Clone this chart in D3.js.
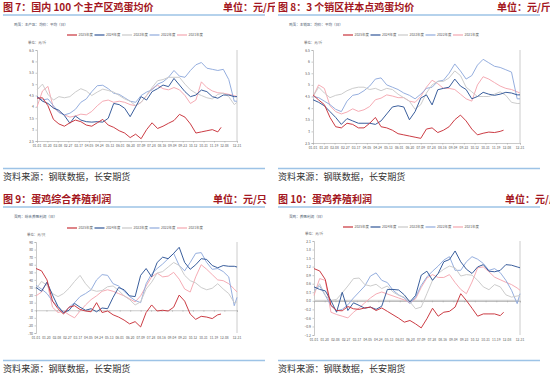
<!DOCTYPE html>
<html>
<head>
<meta charset="utf-8">
<script src="https://cdn.jsdelivr.net/npm/d3@7"></script>
<style>
body { margin: 0; background: #fff; }
svg { display: block; }
</style>
</head>
<body>
<div id="chart"></div>
<script>
// series order: 2025, 2024, 2023, 2022, 2021
var seriesNames = ["2025年度", "2024年度", "2023年度", "2022年度", "2021年度"];
var seriesColors = ["#c8323a", "#2f5597", "#c9c9c9", "#8faadc", "#f4a7b0"];

var tickDays = [0, 19, 38, 57, 76, 95, 114, 133, 152, 171, 190, 209, 228, 247, 266, 285, 304, 323, 342, 365];
var tickLabels = ["01-01", "01-20", "02-08", "02-27", "03-17", "04-05", "04-24", "05-13", "06-01", "06-20",
                  "07-09", "07-28", "08-16", "09-04", "09-23", "10-12", "10-31", "11-19", "12-08", "12-31"];

// sampled every 10 days, last point = 12-31 (or 12-02 for the current year)
var fullDays = d3.range(0, 361, 10).concat([365]);
var partDays = d3.range(0, 331, 10).concat([336]);

// 图7 主产区鸡蛋均价
var p7_2025 = [4.38,4.40,4.05,3.45,3.25,3.15,3.30,3.42,3.35,3.20,3.15,3.30,3.45,3.20,3.10,2.95,2.85,2.65,2.80,2.60,3.00,3.30,3.05,3.15,3.28,3.40,3.67,3.55,3.25,2.85,2.90,2.95,3.00,2.90,3.10];
var p7_2024 = [4.45,4.25,4.15,3.95,3.85,3.62,3.28,3.60,3.42,3.35,3.33,3.35,3.33,3.50,4.15,4.10,3.94,3.57,4.00,4.45,4.30,4.67,4.80,4.96,4.89,5.25,4.96,4.67,4.45,4.52,4.74,4.67,4.45,4.38,4.52,4.52,4.45,4.45];
var p7_2023 = [4.75,5.00,4.55,4.30,4.45,4.40,4.45,4.65,4.80,4.70,4.50,4.65,4.78,4.72,4.65,4.50,4.35,4.25,4.05,4.20,4.50,4.85,5.15,5.20,5.30,5.30,5.30,5.00,4.75,4.60,4.50,4.40,4.35,4.55,4.60,4.45,4.10,4.20];
var p7_2022 = [4.45,4.30,4.35,4.05,3.75,3.65,3.72,3.89,4.20,4.35,4.67,4.93,4.95,4.80,4.60,4.55,4.40,4.25,4.20,4.50,4.65,4.75,5.00,5.10,5.30,5.60,5.35,5.30,5.60,5.85,5.95,5.70,5.65,5.60,5.65,5.20,4.25,4.25];
var p7_2021 = [4.00,4.70,4.90,3.95,3.78,3.65,3.55,3.60,3.68,3.65,3.80,4.05,4.25,4.30,4.20,4.25,4.20,4.10,4.05,4.20,4.50,4.80,4.95,4.80,4.75,4.85,4.75,4.50,4.15,4.30,5.10,4.85,4.70,4.62,4.60,4.55,4.50,4.45];

// 图8 销区鸡蛋均价
var p8_2025 = [4.57,4.35,4.15,3.60,3.20,3.15,3.35,3.30,3.15,3.15,3.35,3.60,3.20,3.15,3.05,2.90,2.85,2.80,2.75,2.70,3.10,3.15,2.95,3.05,3.20,3.50,3.70,3.45,3.10,2.85,2.92,2.97,2.95,3.00,3.05];
var p8_2024 = [4.36,4.25,4.10,3.85,3.60,3.30,3.55,3.45,3.35,3.35,3.35,3.30,3.45,3.75,4.05,4.10,4.05,3.50,3.85,4.43,4.57,4.14,4.79,4.85,4.90,5.25,4.95,4.80,4.40,4.50,4.68,4.60,4.55,4.60,4.68,4.65,4.57,4.57];
var p8_2023 = [4.50,4.90,4.65,4.45,4.55,4.60,4.75,4.85,4.90,4.90,4.80,4.85,4.75,4.85,4.80,4.60,4.45,4.30,3.95,4.15,4.65,5.00,5.15,5.15,5.30,5.60,5.40,4.90,4.70,4.50,4.50,4.50,4.60,4.70,4.55,4.25,4.20,4.20];
var p8_2022 = [4.50,4.45,4.30,4.15,3.95,3.85,4.30,4.55,4.60,4.75,4.95,5.25,5.30,5.00,4.90,4.80,4.65,4.55,4.40,4.60,4.85,4.90,5.15,5.20,5.50,5.90,5.60,5.25,5.40,5.85,6.10,5.95,5.80,5.75,5.65,5.55,4.40,4.40];
var p8_2021 = [4.50,5.00,4.85,4.10,3.85,3.75,3.83,3.97,3.86,3.93,4.07,4.36,4.43,4.57,4.52,4.45,4.45,4.30,4.25,4.50,4.90,5.20,5.05,4.85,4.85,4.80,4.60,4.40,4.30,5.00,5.35,5.25,5.10,4.95,4.85,4.80,4.70,4.65];

// 图9 蛋鸡综合养殖利润
var p9_2025 = [55,52,40,12,2,-5,4,6,1,-1,-2,10,-3,-1,-6,-9,-13,-18,-15,-22,-3,7,-1,0,-1,4,20,12,-5,-12,-8,-9,-11,-6,-5];
var p9_2024 = [30,25,37,20,5,-3,0,9,4,0,2,-2,3,2,17,30,27,19,18,46,55,44,63,70,68,75,83,63,54,60,68,67,59,56,59,58,58,57];
var p9_2023 = [28,38,33,22,18,22,29,38,46,35,27,25,26,31,32,26,19,14,7,11,28,37,49,51,57,63,59,46,39,36,30,27,29,35,28,22,10,11];
var p9_2022 = [33,28,22,12,5,-4,4,10,18,22,27,40,47,46,35,32,25,18,13,10,35,48,55,61,68,75,59,52,63,75,76,63,54,55,51,44,6,17];
var p9_2021 = [19,24,37,4,-3,-1,-6,-10,-1,7,14,19,25,27,25,22,19,15,11,19,32,44,49,44,45,50,41,28,24,44,60,54,47,40,39,35,28,24];

// 图10 蛋鸡养殖利润
var p10_2025 = [1.13,1.05,0.75,-0.16,-0.34,-0.35,-0.20,-0.28,-0.30,-0.25,-0.22,-0.34,-0.25,-0.37,-0.49,-0.61,-0.75,-0.69,-0.81,-0.95,-0.63,-0.26,-0.54,-0.40,-0.37,-0.22,0.25,0.01,-0.26,-0.54,-0.46,-0.46,-0.46,-0.52,-0.40];
var p10_2024 = [0.49,0.40,0.35,0.01,-0.40,0.30,-0.34,-0.07,-0.16,-0.26,-0.22,-0.30,-0.19,0.40,0.40,0.38,0.21,-0.04,0.19,0.90,1.04,0.72,0.96,1.37,1.45,1.75,1.37,1.11,0.96,1.19,1.27,1.04,1.02,1.07,1.27,1.25,1.19,1.16];
var p10_2023 = [0.30,0.60,0.19,0.01,0.05,0.28,0.52,0.78,0.80,0.57,0.52,0.58,0.43,0.52,0.31,0.19,0.13,-0.04,-0.28,-0.22,0.25,0.72,0.96,1.11,1.22,1.16,0.87,0.92,0.90,0.72,0.49,0.39,0.57,0.49,0.21,0.13,0.17,0.19];
var p10_2022 = [0.37,0.52,0.19,-0.16,-0.35,-0.30,-0.14,0.10,0.31,0.52,0.87,0.98,0.72,0.64,0.37,0.21,0.10,-0.10,0.13,0.54,0.84,1.04,1.22,1.43,1.55,1.07,1.07,1.37,1.55,1.46,1.31,1.07,1.13,0.99,0.72,0.37,-0.10,0.25];
var p10_2021 = [0.19,0.78,0.72,-0.40,-0.48,-0.54,-0.60,-0.40,-0.25,-0.07,0.10,0.24,0.31,0.24,0.17,0.10,0.03,-0.07,0.07,0.47,0.80,0.92,0.82,0.82,0.92,0.64,0.40,0.25,0.66,1.16,1.19,1.02,0.83,0.74,0.65,0.57,0.45,0.37];

var priceTicks = [6.5, 6, 5.5, 5, 4.5, 4, 3.5, 3, 2.5];
var profitTicks = [90, 80, 70, 60, 50, 40, 30, 20, 10, 0, -10, -20, -30];
var profitJinTicks = [2.1, 1.8, 1.5, 1.2, 0.9, 0.6, 0.3, 0, -0.3, -0.6, -0.9, -1.2];

var panels = [
    {ox: 0, oy: 0, clipW: 275, title: "图 7：国内 100 个主产区鸡蛋均价", unitX: 223, unit: "单位：元/斤",
     sub: "鸡蛋：主产区：均价：平均（日）", axisUnit: "单位：元/斤",
     x0: 37, x1: 237, y0: 50, y1: 141, domain: [2.5, 6.5], yTicks: priceTicks, fmt: function(d) { return d; },
     data: [p7_2025, p7_2024, p7_2023, p7_2022, p7_2021], legendX: 67, legendY: 35, zero: "none"},
    {ox: 275, oy: 0, clipW: 275, title: "图 8：3 个销区样本点鸡蛋均价", unitX: 222, unit: "单位：元/斤",
     sub: "鸡蛋：主销区：均价：平均（日）", axisUnit: "单位：元/斤",
     x0: 38, x1: 245, y0: 50, y1: 143, domain: [2.5, 6.5], yTicks: priceTicks, fmt: function(d) { return d; },
     data: [p8_2025, p8_2024, p8_2023, p8_2022, p8_2021], legendX: 68, legendY: 35, zero: "none"},
    {ox: 0, oy: 192, clipW: 275, title: "图 9：蛋鸡综合养殖利润", unitX: 213, unit: "单位：元/只",
     sub: "蛋鸡：综合养殖利润（日）", axisUnit: "单位：元/只",
     x0: 36, x1: 237, y0: 50, y1: 141, domain: [-30, 90], yTicks: profitTicks, fmt: function(d) { return d; },
     data: [p9_2025, p9_2024, p9_2023, p9_2022, p9_2021], legendX: 67, legendY: 36, zero: "line"},
    {ox: 275, oy: 192, clipW: 275, title: "图 10：蛋鸡养殖利润", unitX: 230, unit: "单位：元/斤",
     sub: "蛋鸡：养殖利润（日）", axisUnit: "单位：元/斤",
     x0: 39, x1: 245, y0: 49, y1: 143, domain: [-1.2, 2.1], yTicks: profitJinTicks, fmt: d3.format(".1f"),
     data: [p10_2025, p10_2024, p10_2023, p10_2022, p10_2021], legendX: 68, legendY: 35, zero: "band"}
];

var svg = d3.select("#chart").append("svg")
    .attr("width", 550)
    .attr("height", 376);

var cjk = "'Noto Sans CJK SC', 'Noto Sans', sans-serif";

panels.forEach(function(p, pi) {
    svg.append("clipPath").attr("id", "clip" + pi)
        .append("rect").attr("width", p.clipW).attr("height", 192);

    var g = svg.append("g")
        .attr("transform", "translate(" + p.ox + "," + p.oy + ")")
        .attr("clip-path", "url(#clip" + pi + ")");

    // title row
    g.append("text")
        .attr("x", 3).attr("y", 10.5)
        .attr("font-family", cjk).attr("font-size", 10).attr("font-weight", "bold")
        .attr("fill", "#a31621")
        .text(p.title);
    g.append("text")
        .attr("x", p.unitX).attr("y", 10.5)
        .attr("font-family", cjk).attr("font-size", 10).attr("font-weight", "bold")
        .attr("fill", "#a31621")
        .text(p.unit);
    g.append("line")
        .attr("x1", 3).attr("x2", 265).attr("y1", 15).attr("y2", 15)
        .attr("stroke", "#9dc3e6").attr("stroke-width", 1.6);

    // footer
    g.append("line")
        .attr("x1", 3).attr("x2", 265).attr("y1", 168.5).attr("y2", 168.5)
        .attr("stroke", "#9dc3e6").attr("stroke-width", 1.6);
    g.append("text")
        .attr("x", 3).attr("y", 180)
        .attr("font-family", cjk).attr("font-size", 9.1)
        .attr("fill", "#333")
        .text("资料来源：钢联数据，长安期货");

    // small chart captions
    g.append("text")
        .attr("x", 14).attr("y", 26)
        .attr("font-family", cjk).attr("font-size", 3.6)
        .attr("fill", "#44546a")
        .text(p.sub);
    g.append("text")
        .attr("x", p.x0 - 9).attr("y", p.y0 - 6)
        .attr("font-family", cjk).attr("font-size", 3.4)
        .attr("fill", "#595959")
        .text(p.axisUnit);

    var xScale = d3.scaleLinear().domain([0, 365]).range([p.x0, p.x1]);
    var yScale = d3.scaleLinear().domain(p.domain).range([p.y1, p.y0]);

    // y axis
    var yAxis = g.append("g")
        .attr("transform", "translate(" + p.x0 + ",0)")
        .call(d3.axisLeft(yScale).tickValues(p.yTicks).tickFormat(p.fmt).tickSize(1.5).tickPadding(1.5));
    yAxis.selectAll("text").attr("font-size", 3.4).attr("font-family", cjk).attr("fill", "#595959");
    yAxis.selectAll("line, path").attr("stroke", "#a6a6a6").attr("stroke-width", 0.6);

    // right border
    g.append("line")
        .attr("x1", p.x1).attr("x2", p.x1).attr("y1", p.y0).attr("y2", p.y1)
        .attr("stroke", "#bfbfbf").attr("stroke-width", 0.8);

    // x axis: at the bottom or at zero
    var axisY = p.zero === "none" ? p.y1 : yScale(0);
    if (p.zero === "band") {
        g.append("line")
            .attr("x1", p.x0).attr("x2", p.x1).attr("y1", axisY).attr("y2", axisY)
            .attr("stroke", "#d9d9d9").attr("stroke-width", 2.2);
    }
    var xAxis = g.append("g")
        .attr("transform", "translate(0," + axisY + ")")
        .call(d3.axisBottom(xScale).tickValues(tickDays).tickFormat("").tickSize(1.5));
    xAxis.selectAll("line, path").attr("stroke", "#a6a6a6").attr("stroke-width", 0.6);

    g.append("g").selectAll("text")
        .data(tickDays)
        .join("text")
        .attr("x", function(d) { return xScale(d); })
        .attr("y", p.y1 + 5.5)
        .attr("text-anchor", "middle")
        .attr("font-family", cjk).attr("font-size", 3.3)
        .attr("fill", "#595959")
        .text(function(d, i) { return tickLabels[i]; });

    // lines, 2021 drawn first so the current year sits on top
    var line = d3.line()
        .x(function(d) { return xScale(d[0]); })
        .y(function(d) { return yScale(d[1]); });

    for (var s = seriesNames.length - 1; s >= 0; s--) {
        var vals = p.data[s];
        var days = vals.length === fullDays.length ? fullDays : partDays;
        var pts = vals.map(function(v, i) { return [days[i], v]; });
        g.append("path")
            .datum(pts)
            .attr("fill", "none")
            .attr("stroke", seriesColors[s])
            .attr("stroke-width", 0.95)
            .attr("stroke-linejoin", "round")
            .attr("d", line);
    }

    // legend
    var leg = g.append("g").attr("transform", "translate(" + p.legendX + "," + p.legendY + ")");
    seriesNames.forEach(function(name, i) {
        var lx = i * 27.5;
        leg.append("line")
            .attr("x1", lx).attr("x2", lx + 10).attr("y1", 0).attr("y2", 0)
            .attr("stroke", seriesColors[i]).attr("stroke-width", 1.2);
        leg.append("text")
            .attr("x", lx + 11.5).attr("y", 1.2)
            .attr("font-family", cjk).attr("font-size", 3.4)
            .attr("fill", "#595959")
            .text(name);
    });
});
</script>
</body>
</html>
